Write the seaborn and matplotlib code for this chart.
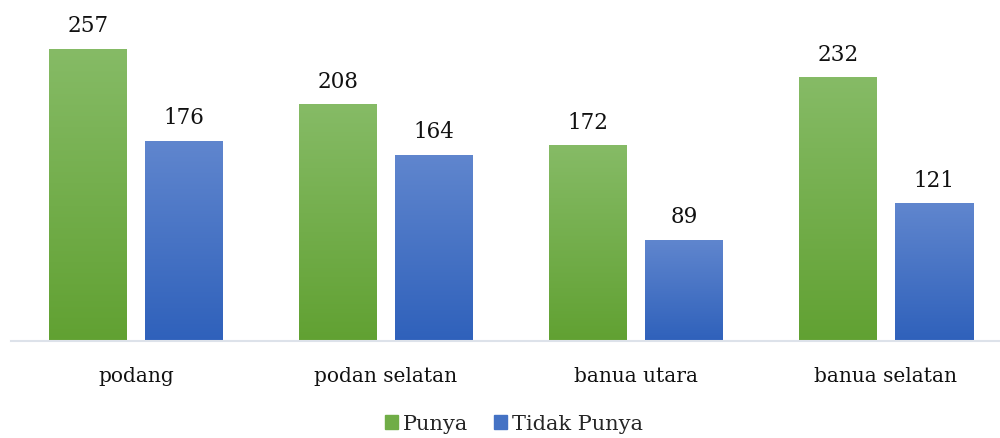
import matplotlib
matplotlib.use("Agg")
import matplotlib.pyplot as plt
import matplotlib.colors as mcolors
import numpy as np
import pandas as pd
import seaborn as sns

# data
categories = ["podang", "podan selatan", "banua utara", "banua selatan"]
punya = [257, 208, 172, 232]
tidak_punya = [176, 164, 89, 121]
series_names = ["Punya", "Tidak Punya"]

df = pd.DataFrame({
    "Wilayah": categories * 2,
    "Jumlah": punya + tidak_punya,
    "Status": [series_names[0]] * 4 + [series_names[1]] * 4,
})

# gradient end points (top, bottom) per series
gradients = {
    "Punya": ("#86BB66", "#61A132"),
    "Tidak Punya": ("#6086CE", "#2F61BB"),
}
palette = {"Punya": "#70AD47", "Tidak Punya": "#4472C4"}

sns.set_style("white")
plt.rcParams["font.family"] = ["DejaVu Serif"]

fig = plt.figure(figsize=(10, 4.39), dpi=100)
ax = fig.add_axes([0.011, 0.221, 1.0, 0.777])

sns.barplot(data=df, x="Wilayah", y="Jumlah", hue="Status", palette=palette,
            width=0.768, gap=0.1875, ax=ax, legend=False, errorbar=None)

# vertical gradient fill for every bar, clipped to the bar patch
for container, name in zip(ax.containers, series_names):
    top, bottom = gradients[name]
    cmap = mcolors.LinearSegmentedColormap.from_list(name, [bottom, top])
    for bar in container:
        bar.set_alpha(0)
        x0, y0 = bar.get_x(), bar.get_y()
        w, h = bar.get_width(), bar.get_height()
        grad = np.linspace(0, 1, 256).reshape(-1, 1)
        img = ax.imshow(grad, extent=[x0, x0 + w, y0, y0 + h], origin="lower",
                        cmap=cmap, aspect="auto", zorder=2)
        img.set_clip_path(bar)
    ax.bar_label(container, padding=9, fontsize=15.5, color="#111111")

ax.set_xlim(-0.5, 3.5)
ax.set_ylim(0, 300)

ax.set_xlabel("")
ax.set_ylabel("")
ax.set_yticks([])
ax.tick_params(axis="x", length=0, pad=18, labelsize=14.5, labelcolor="#111111")
for side in ["top", "right", "left"]:
    ax.spines[side].set_visible(False)
ax.spines["bottom"].set_color("#DDE2EA")
ax.spines["bottom"].set_linewidth(1.5)

handles = [plt.Rectangle((0, 0), 1, 1, color=palette[n]) for n in series_names]
fig.legend(handles, series_names, loc="center", bbox_to_anchor=(0.514, 0.032),
           ncol=2, frameon=False, fontsize=15, handlelength=0.65, handleheight=0.65,
           handletextpad=0.25, columnspacing=1.2)

fig.savefig("out.png", dpi=100)
